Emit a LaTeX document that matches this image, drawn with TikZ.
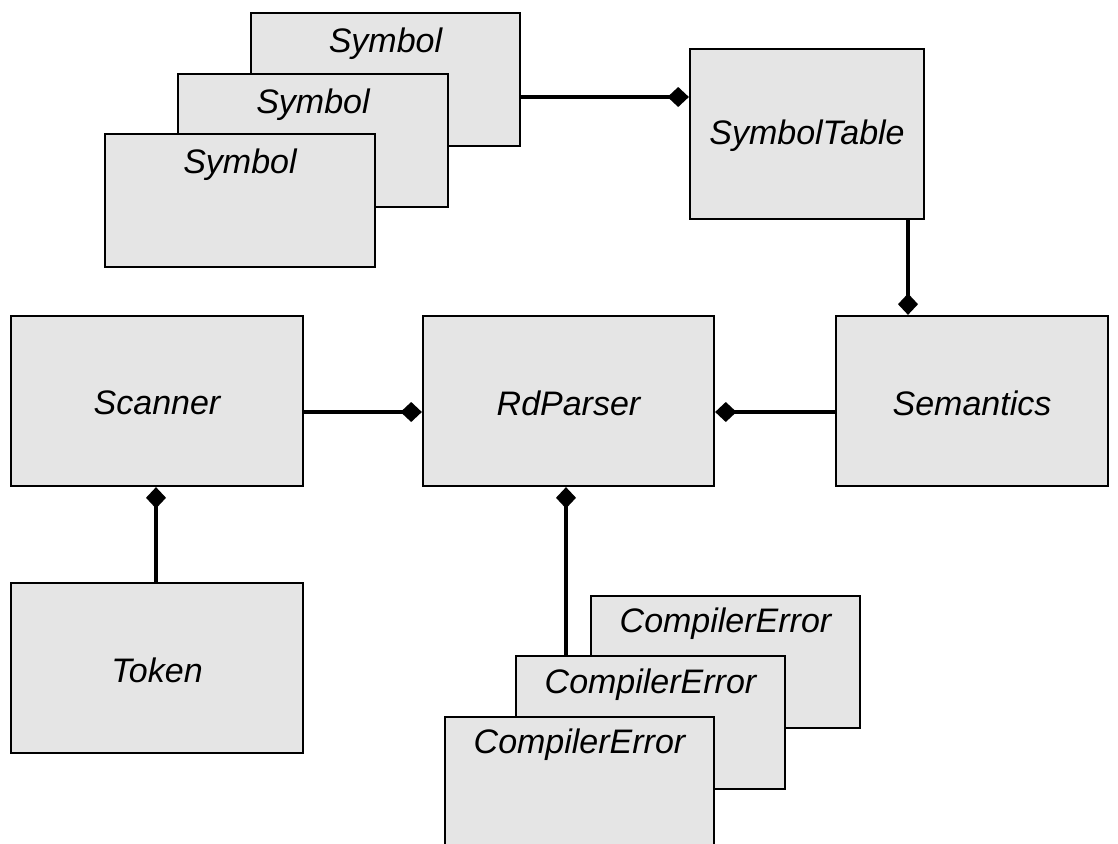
\documentclass[tikz,border=0pt]{standalone}
\usepackage{fontspec}
\setmainfont{Liberation Sans}
\usetikzlibrary{arrows.meta,fit,calc}
\begin{document}
\begin{tikzpicture}[x=0.75pt,y=-0.75pt,
  box/.style={draw=black,fill=black!10,line width=1.7pt,inner sep=0pt,rectangle},
  lbl/.style={font=\fontsize{25.5}{30}\selectfont\itshape,inner sep=0pt},
  conn/.style={line width=3.5pt,-{Diamond[length=16pt,width=15pt]}},
  rconn/.style={line width=3.5pt,{Diamond[length=16pt,width=15pt]}-}]
\clip (0,0) rectangle (1118,843);
\fill[white] (0,0) rectangle (1118,843);
% Symbol stack
\node[box,fit={(251,13) (520,146)}] (sy1) {};
\node[lbl] (sy1t) at ($(sy1.north)+(0,32)$) {Symbol};
\node[box,fit={(178,74) (448,207)}] (sy2) {};
\node[lbl] (sy2t) at ($(sy2.north)+(0,32)$) {Symbol};
\node[box,fit={(105,134) (375,267)}] (sy3) {};
\node[lbl] (sy3t) at ($(sy3.north)+(0,32)$) {Symbol};
% SymbolTable
\node[box,fit={(690,49) (924,219)}] (st) {};
\node[lbl] (stt) at ($(st)+(0,2)$) {SymbolTable};
% Middle row
\node[box,fit={(11,316) (303,486)}] (sc) {};
\node[lbl] (sct) at ($(sc)+(0,2)$) {Scanner};
\node[box,fit={(423,316) (714,486)}] (rd) {};
\node[lbl] (rdt) at ($(rd)+(0,2)$) {RdParser};
\node[box,fit={(836,316) (1108,486)}] (se) {};
\node[lbl] (set) at ($(se)+(0,2)$) {Semantics};
% Token
\node[box,fit={(11,583) (303,753)}] (tk) {};
\node[lbl] (tkt) at ($(tk)+(0,2)$) {Token};
% CompilerError stack
\node[box,fit={(591,596) (860,728)}] (ce1) {};
\node[lbl] (ce1t) at ($(ce1.north)+(0,29)$) {CompilerError};
\node[box,fit={(516,656) (785,789)}] (ce2) {};
\node[lbl] (ce2t) at ($(ce2.north)+(0,30)$) {CompilerError};
\node[box,fit={(445,717) (714,900)}] (ce3) {};
\node[lbl] (ce3t) at ($(ce3.north)+(0,29)$) {CompilerError};
% connectors
\coordinate (ya) at (0,97);
\coordinate (xb) at (908,0);
\coordinate (yc) at (0,412);
\coordinate (xd) at (156,0);
\coordinate (xe) at (566,0);
\draw[conn] (sy1.east |- ya) -- (st.west |- ya);
\draw[conn] (st.south -| xb) -- (se.north -| xb);
\draw[conn] (sc.east |- yc) -- (rd.west |- yc);
\draw[conn] (se.west |- yc) -- (rd.east |- yc);
\draw[conn] (tk.north -| xd) -- (sc.south -| xd);
\draw[rconn] (rd.south -| xe) -- (ce2.north -| xe);
\end{tikzpicture}
\end{document}
